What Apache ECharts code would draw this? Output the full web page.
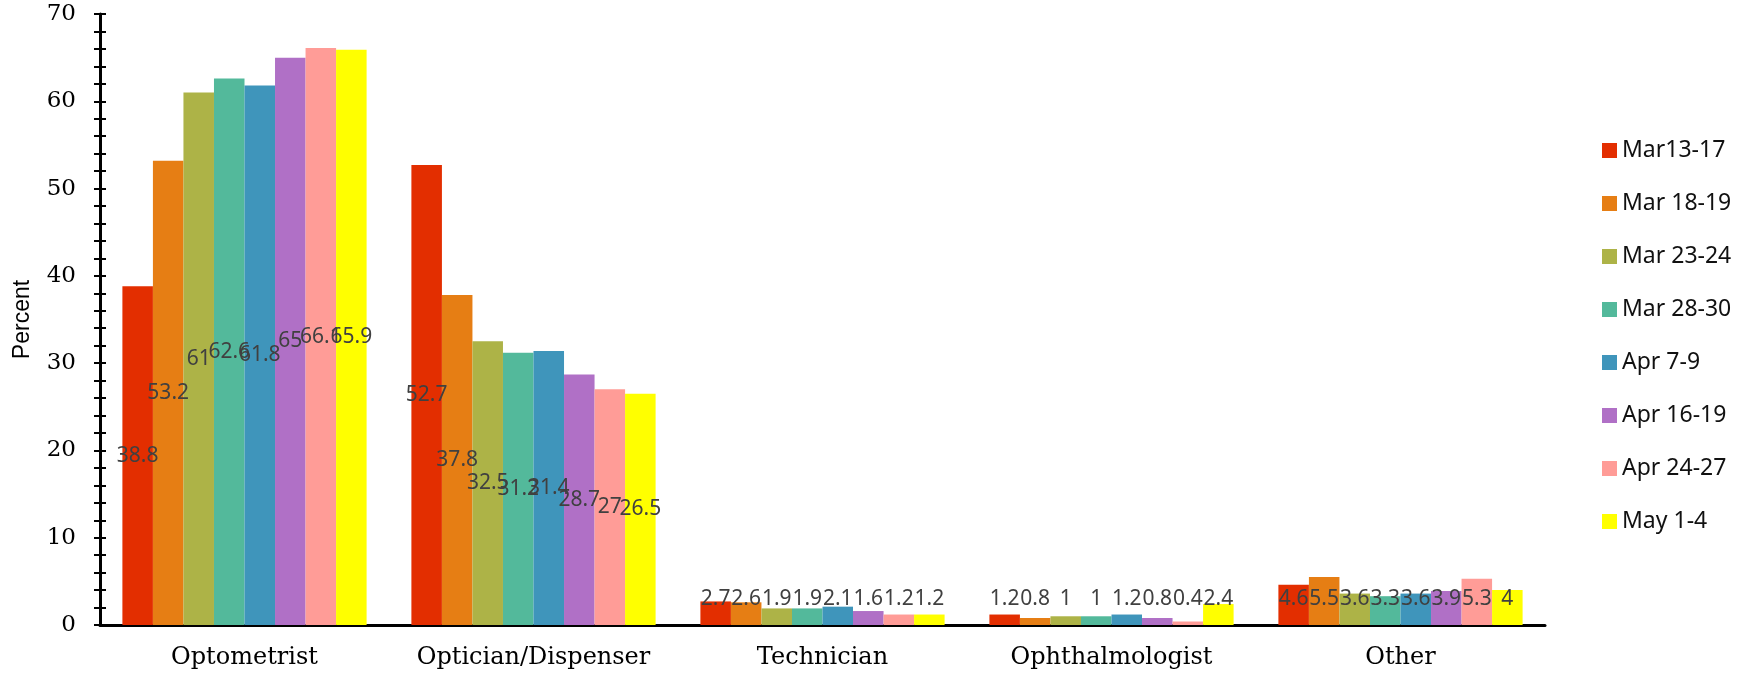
<!DOCTYPE html>
<html>
<head>
<meta charset="utf-8">
<script src="https://cdn.jsdelivr.net/npm/echarts@6/dist/echarts.min.js"></script>
<style>
  html, body { margin: 0; padding: 0; background: #fff; }
  #chart { width: 1744px; height: 678px; }
</style>
</head>
<body>
<div id="chart"></div>
<script>
// ---- data ----
const categories = ['Optometrist', 'Optician/Dispenser', 'Technician', 'Ophthalmologist', 'Other'];
const periods = ['Mar13-17', 'Mar 18-19', 'Mar 23-24', 'Mar 28-30', 'Apr 7-9', 'Apr 16-19', 'Apr 24-27', 'May 1-4'];

const mar13_17 = [38.8, 52.7, 2.7, 1.2, 4.6];
const mar18_19 = [53.2, 37.8, 2.6, 0.8, 5.5];
const mar23_24 = [61, 32.5, 1.9, 1, 3.6];
const mar28_30 = [62.6, 31.2, 1.9, 1, 3.3];
const apr7_9 = [61.8, 31.4, 2.1, 1.2, 3.6];
const apr16_19 = [65, 28.7, 1.6, 0.8, 3.9];
const apr24_27 = [66.1, 27, 1.2, 0.4, 5.3];
const may1_4 = [65.9, 26.5, 1.2, 2.4, 4];

const seriesData = [mar13_17, mar18_19, mar23_24, mar28_30, apr7_9, apr16_19, apr24_27, may1_4];
const colors = ['#E32E00', '#E67E14', '#ADB347', '#53B99B', '#3F95BB', '#B070C6', '#FF9C97', '#FFFF00'];

// ---- chart ----
const chart = echarts.init(document.getElementById('chart'));

const labelFont = { color: '#404040', fontFamily: 'Noto Sans', fontSize: 21, lineHeight: 22 };

// labels sit in the middle of the bar; short bars keep the label just above the axis
const series = periods.map((name, i) => ({
    name: name,
    type: 'bar',
    barGap: '0%',
    barCategoryGap: '15.5%',
    itemStyle: { color: colors[i] },
    label: Object.assign({ show: true, position: 'inside' }, labelFont),
    data: seriesData[i].map(v => v < 6
        ? { value: v, label: { position: 'insideBottom', distance: 15 } }
        : v)
}));

chart.setOption({
    animation: false,
    color: colors,
    grid: { left: 100, right: 199, top: 14, bottom: 53 },
    legend: {
        orient: 'vertical',
        left: 1597,
        top: 134,
        itemWidth: 15,
        itemHeight: 15,
        itemGap: 30,
        icon: 'rect',
        data: periods,
        textStyle: { fontFamily: 'Noto Sans', fontSize: 23, color: '#111', lineHeight: 23 }
    },
    xAxis: {
        type: 'category',
        data: categories,
        axisTick: { show: false },
        axisLine: { lineStyle: { color: '#000', width: 3 } },
        axisLabel: { interval: 0, fontFamily: 'DejaVu Serif', fontSize: 24, color: '#000', margin: 21 }
    },
    yAxis: [{
        type: 'value',
        min: 0, max: 70, interval: 10,
        name: 'Percent',
        nameLocation: 'middle',
        nameGap: 66,
        nameTextStyle: { fontFamily: 'Liberation Sans', fontSize: 23, color: '#000' },
        splitLine: { show: false },
        axisLine: { show: true, lineStyle: { color: '#000', width: 3 } },
        axisTick: { show: true, length: 6, lineStyle: { color: '#000', width: 2 } },
        minorTick: { show: true, splitNumber: 5, length: 6, lineStyle: { color: '#000', width: 2 } },
        axisLabel: { fontFamily: 'DejaVu Serif', fontSize: 23, color: '#000', margin: 24 }
    }, {
        // same scale, ticks pointing inward so they cross the axis line
        type: 'value',
        position: 'left',
        min: 0, max: 70, interval: 10,
        splitLine: { show: false },
        axisLine: { show: false },
        axisTick: { show: true, inside: true, length: 6, lineStyle: { color: '#000', width: 2 } },
        minorTick: { show: true, splitNumber: 5, length: 6, lineStyle: { color: '#000', width: 2 } },
        axisLabel: { show: false }
    }],
    series: series
});
</script>
</body>
</html>
